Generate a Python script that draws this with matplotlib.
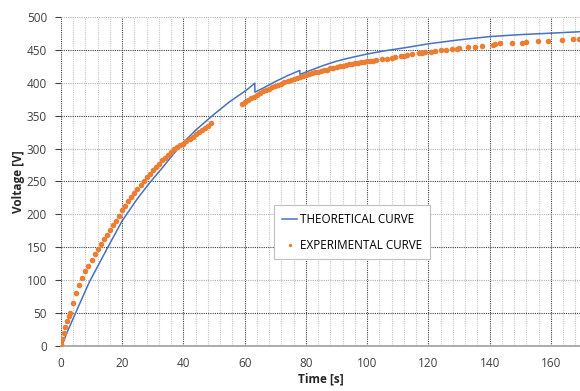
import matplotlib
matplotlib.use('Agg')
import matplotlib.pyplot as plt
from matplotlib.ticker import MultipleLocator

# theoretical curve
theo_time = [0.3, 2, 5, 9.3, 15, 20, 25, 29, 33, 38.9, 44, 49.7, 55, 60.6, 63.3, 63.35,
             66, 70, 74, 78, 78.05, 82, 86, 90, 93.3, 100, 106, 113, 120, 130, 140,
             150, 160, 170]
theo_volt = [0, 20, 52, 97, 147, 190, 224, 248, 270, 304, 328, 351, 371, 389, 399.5, 386,
             392, 402, 411, 419, 413, 420, 427, 433, 437, 444, 449, 454, 459.5, 465.5, 470.5,
             473.5, 475.7, 478]

# experimental points
exp_time = [0, 0.5, 1, 1.5, 2, 2.5, 3, 4, 5, 6, 7, 8, 9, 10, 11, 12, 13, 14, 15, 16,
            17, 18, 19, 20, 21, 22, 23, 24, 25, 26, 27, 28, 29, 30, 31, 32, 33, 34, 35,
            36, 37, 38, 39, 40, 41, 42, 43, 44, 45, 46, 47, 48, 49,
            59, 60, 61, 62, 63, 64, 65, 66, 67, 68, 69, 70, 71, 72, 73, 74, 75, 76, 77,
            78, 79, 80, 81, 82, 83, 84, 85, 86, 87, 88, 89, 90, 91, 92, 93, 94, 95, 96,
            97, 98, 99, 100, 101, 102, 103,
            104.7, 106.6, 108, 109.1, 110.9, 112, 113.1, 114.5, 117, 117.8, 118.9, 120.7,
            122.1, 124, 125.9, 127.6, 129.2, 130.1, 133, 135.2, 137.4, 141.2, 141.7, 143.3,
            147.4, 150.4, 151.8, 155.7, 158.9, 163.6, 167.3, 169.2]
exp_volt = [2, 10, 20, 29, 38, 45, 50, 65, 80, 92, 103, 113, 122, 130, 139, 147, 155,
            162, 169, 176, 183, 190, 197, 206, 213, 220, 227, 233, 239, 245, 250, 256, 262,
            267, 272, 277, 282, 286, 290, 295, 299, 302, 305, 307, 311, 315, 318, 322, 325,
            329, 332, 335, 339,
            368, 371, 374, 377, 379, 382, 385, 387, 389, 391, 393, 395, 397, 399, 401, 403,
            405, 406, 408, 409, 411, 412, 413, 415, 416, 417, 418, 419, 420, 422, 423, 424,
            425, 426, 427, 428, 429, 430, 431, 432, 432, 433, 434, 434, 435,
            436, 437, 438.5, 439.6, 440.6, 441, 442, 443.7, 445, 445.6, 446.7, 447.6,
            448.7, 449.7, 450, 451, 452, 453.7, 454, 455, 456, 458, 459, 460,
            461, 461.3, 462.8, 463.4, 464.4, 465.4, 467, 467.4]

plt.rcParams['font.family'] = ['Open Sans', 'DejaVu Sans']

fig = plt.figure(figsize=(5.8, 3.91), dpi=100)
ax = fig.add_axes([0.105, 0.116, 0.895, 0.84])

ax.plot(theo_time, theo_volt, color='#4472C4', lw=1.1, label='THEORETICAL CURVE', zorder=3)
ax.plot(exp_time, exp_volt, 'o', color='#ED7D31', ms=4, mew=0, label='EXPERIMENTAL CURVE',
        zorder=4)

ax.set_xlim(0, 169.5)
ax.set_ylim(0, 500)
ax.xaxis.set_major_locator(MultipleLocator(20))
ax.xaxis.set_minor_locator(MultipleLocator(4))
ax.yaxis.set_major_locator(MultipleLocator(50))

ax.grid(which='major', axis='x', color='#404040', ls=(0, (1, 1)), lw=0.8)
ax.grid(which='minor', axis='x', color='#c8c8c8', ls=(0, (1, 1)), lw=0.8)
ax.grid(which='major', axis='y', color='#404040', ls=(0, (1, 1)), lw=0.8)
for i, gl in enumerate(ax.get_ygridlines()):
    if i % 2 == 1:
        gl.set_color('#b0b0b0')
ax.set_axisbelow(True)

for s in ['top', 'right', 'left']:
    ax.spines[s].set_visible(False)
ax.spines['bottom'].set_color('#a6a6a6')
ax.spines['bottom'].set_linewidth(1.3)

ax.tick_params(axis='x', which='both', length=0, pad=8, labelsize=8.5, colors='#404040')
ax.tick_params(axis='y', which='major', length=4, width=0.8, color='#404040', pad=6,
               labelsize=8.5, labelcolor='#404040')

ax.set_xlabel('Time [s]', fontsize=8.5, fontweight='bold', color='#262626', labelpad=2)
ax.set_ylabel('Voltage [V]', fontsize=8.5, fontweight='bold', color='#262626', labelpad=1)

leg = ax.legend(loc='upper left', bbox_to_anchor=(0.4, 0.445), fontsize=8.4,
                handlelength=1.3, handletextpad=0.25, borderpad=0.65, labelspacing=1.1,
                fancybox=False, framealpha=1, edgecolor='#bfbfbf', markerscale=0.6)
leg.get_frame().set_linewidth(0.8)

fig.savefig('out.png', dpi=100)
